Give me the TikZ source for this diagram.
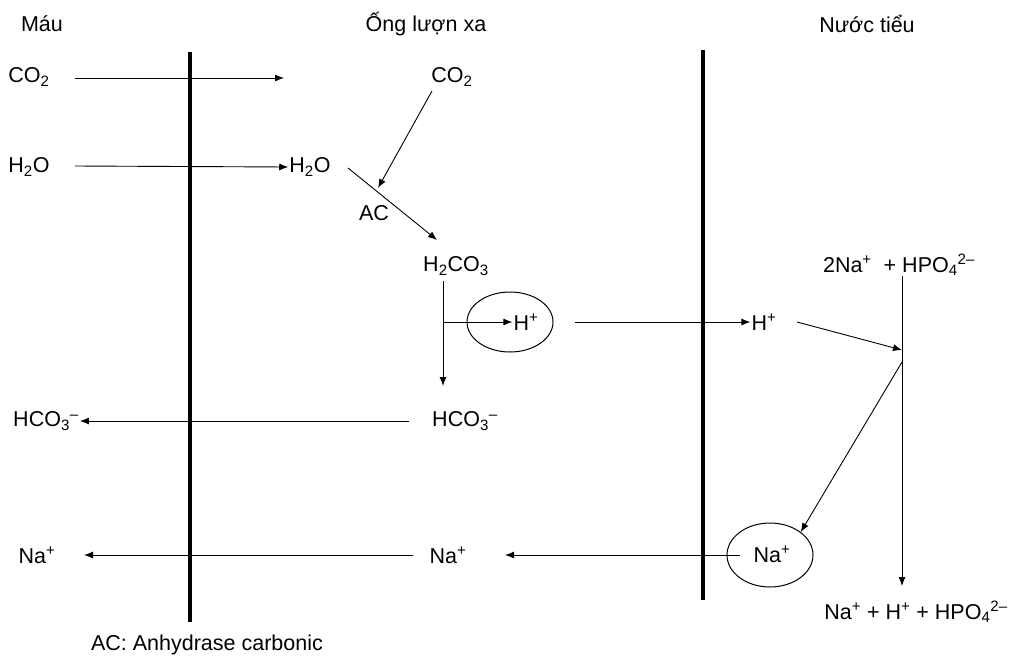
\documentclass[tikz,border=0pt]{standalone}
\usepackage{fontspec}
\setmainfont{Liberation Sans}
\usetikzlibrary{arrows.meta,shapes.geometric}
\newcommand\mysubsup[2]{\textsubscript{#1}\textsuperscript{#2}}
\begin{document}
\begin{tikzpicture}[x=1pt,y=-1pt,
  lbl/.style={font=\fontsize{21.5}{25}\selectfont, inner sep=1pt},
  arr/.style={-{Latex[length=9pt,width=7pt]}, line width=0.9pt},
  membrane/.style={line width=3.5pt},
  oval/.style={ellipse, draw, line width=1pt, inner sep=0pt}]
\useasboundingbox (0,0) rectangle (1017,662);
% headers
\node[lbl] (hmau) at (42,24) {Máu};
\node[lbl] (hong) at (426,24) {Ống lượn xa};
\node[lbl] (hnuoc) at (867,24) {Nước tiểu};
% membranes
\coordinate (m1t) at (190,52); \coordinate (m1b) at (190,622);
\coordinate (m2t) at (703,50); \coordinate (m2b) at (703,600);
\draw[membrane] (m1t) -- (m1b);
\draw[membrane] (m2t) -- (m2b);
% row CO2
\node[lbl] (co2l) at (29,77) {CO\textsubscript{2}};
\coordinate (co2s) at (75,78);
\coordinate (co2end) at (284,78);
\draw[arr] (co2s) -- (co2end);
% row H2O
\node[lbl] (h2ol) at (29,167) {H\textsubscript{2}O};
\node[lbl] (h2om) at (310,167) {H\textsubscript{2}O};
\coordinate (h2os) at (75,166);
\draw[arr] (h2os) -- (h2om.west);
% CO2 right
\node[lbl] (co2r) at (452,77) {CO\textsubscript{2}};
\coordinate (acm) at (378,188);
\coordinate (co2rs) at (432,91);
\draw[arr] (co2rs) -- (acm);
% reaction line H2O -> H2CO3
\coordinate (rs) at (348,168);
\coordinate (re) at (437,240);
\node[lbl] (h2co3) at (456,266) {H\textsubscript{2}CO\textsubscript{3}};
\draw[arr] (rs) -- (re);
\node[lbl] (ac) at (374,213) {AC};
% H+ ellipse
\node[oval, minimum width=86pt, minimum height=60pt] (hell) at (510,322) {};
\node[lbl] (hplus) at (526,322) {H\textsuperscript{+}};
\coordinate (vtop) at (443,281);
\coordinate (vmid) at (443,322);
\coordinate (vbot) at (443,386);
\draw[arr] (vtop) -- (vbot);
\draw[arr] (vmid) -- (hplus.west);
% H+ across to urine
\node[lbl] (hplusu) at (764,322) {H\textsuperscript{+}};
\coordinate (hs) at (575,322);
\draw[arr] (hs) -- (hplusu.west);
% urine buffer
\node[lbl] (buf) at (899,265) {2Na\textsuperscript{+}\ \ + HPO\mysubsup{4}{2–}};
\node[lbl] (prod) at (916,612) {Na\textsuperscript{+} + H\textsuperscript{+} + HPO\mysubsup{4}{2–}};
\coordinate (bt) at (902,276);
\coordinate (bj) at (902,350);
\coordinate (bn) at (902,362);
\coordinate (bb) at (902,586);
\draw[arr] (bt) -- (bb);
\coordinate (hus) at (797,322);
\draw[arr] (hus) -- (bj);
% Na+ ellipse
\node[oval, minimum width=86pt, minimum height=64pt] (naell) at (770,555) {};
\node[lbl] (naplusu) at (772,554) {Na\textsuperscript{+}};
\draw[arr] (bn) -- (naell.north east);
% HCO3- row
\node[lbl] (hco3l) at (46,421) {HCO\mysubsup{3}{–}};
\node[lbl] (hco3m) at (465,421) {HCO\mysubsup{3}{–}};
\coordinate (hco3s) at (409,421);
\draw[arr] (hco3s) -- (hco3l.east);
% Na row
\node[lbl] (nam) at (448,555) {Na\textsuperscript{+}};
\node[lbl] (nal) at (37,555) {Na\textsuperscript{+}};
\coordinate (nas) at (740,555);
\coordinate (nae) at (505,555);
\coordinate (nams) at (413,555);
\coordinate (nale) at (84,555);
\draw[arr] (nas) -- (nae);
\draw[arr] (nams) -- (nale);
% legend
\node[lbl] (legend) at (207,645) {AC: Anhydrase carbonic};
\end{tikzpicture}
\end{document}
